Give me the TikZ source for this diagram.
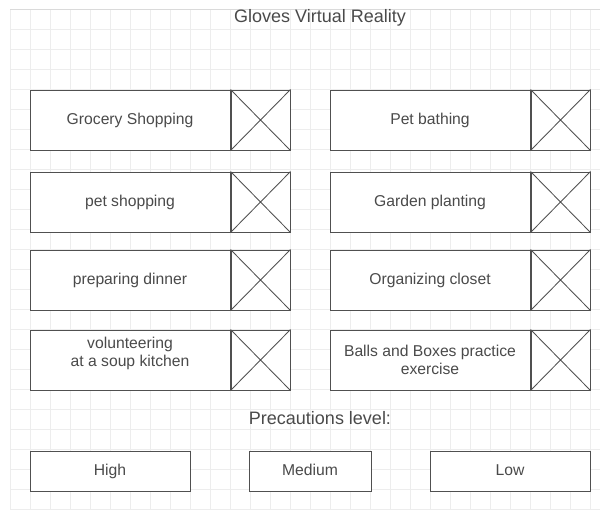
\documentclass[tikz,border=0pt]{standalone}
\usepackage{fontspec}
\setmainfont{Liberation Sans}
\usetikzlibrary{positioning}
\definecolor{gridcol}{HTML}{EDEDED}
\definecolor{edgecol}{HTML}{DADADA}
\definecolor{linecol}{HTML}{505050}
\definecolor{txtcol}{HTML}{4A4A4A}
\newcommand{\bigtext}{\fontsize{18}{22}\selectfont}

\begin{document}
\begin{tikzpicture}[x=1pt, y=-1pt, node distance=0pt,
      every node/.style={text=txtcol, font=\fontsize{15.7}{18}\selectfont, text height=11.5pt, text depth=3.5pt},
      task/.style={draw=linecol, line width=1pt, minimum width=200pt, minimum height=60pt,
                   align=center, inner sep=0pt, fill=white},
      twoline/.style={text height=, text depth=},
      tick/.style={draw=linecol, line width=1pt, minimum width=59pt, minimum height=60pt,
                   inner sep=0pt, fill=white},
      level/.style={draw=linecol, line width=0.9pt, minimum height=40pt, inner sep=0pt, fill=white}]
    \fill[white] (0,0) rectangle (600,509);
    \useasboundingbox (0,0) rectangle (600,509);
    \foreach \gx in {10,30,...,590} \draw[gridcol, line width=0.8pt] (\gx,9) -- (\gx,509);
    \foreach \gy in {29,49,...,509} \draw[gridcol, line width=0.8pt] (10,\gy) -- (600,\gy);
    \draw[edgecol, line width=0.8pt] (10,9) -- (600,9);

    \node[font=\bigtext] (title) at (320,18) {Gloves Virtual Reality};

    \node[task] (grocery) at (130,120) {Grocery Shopping};
    \node[tick, right=of grocery] (groceryx) {};
    \node[task] (petshop) at (130,202) {pet shopping};
    \node[tick, right=of petshop] (petshopx) {};
    \node[task] (dinner) at (130,280) {preparing dinner};
    \node[tick, right=of dinner] (dinnerx) {};
    \node[task, twoline, text depth=16pt] (soup) at (130,360) {volunteering\\at a soup kitchen};
    \node[tick, right=of soup] (soupx) {};

    \node[task] (bathing) at (430,120) {Pet bathing};
    \node[tick, right=of bathing] (bathingx) {};
    \node[task] (garden) at (430,202) {Garden planting};
    \node[tick, right=of garden] (gardenx) {};
    \node[task] (closet) at (430,280) {Organizing closet};
    \node[tick, right=of closet] (closetx) {};
    \node[task, twoline] (balls) at (430,360) {Balls and Boxes practice\\exercise};
    \node[tick, right=of balls] (ballsx) {};

    \foreach \c in {groceryx, petshopx, dinnerx, soupx, bathingx, gardenx, closetx, ballsx}
      \draw[linecol, line width=0.85pt] (\c.north west) -- (\c.south east) (\c.north east) -- (\c.south west);

    \node[font=\bigtext] (prec) at (320,420) {Precautions level:};
    \node[level, minimum width=160pt] (high) at (110,471) {High};
    \node[level, minimum width=122pt] (medium) at (310,471) {Medium};
    \node[level, minimum width=160pt] (low) at (510,471) {Low};
  \end{tikzpicture}
\end{document}
